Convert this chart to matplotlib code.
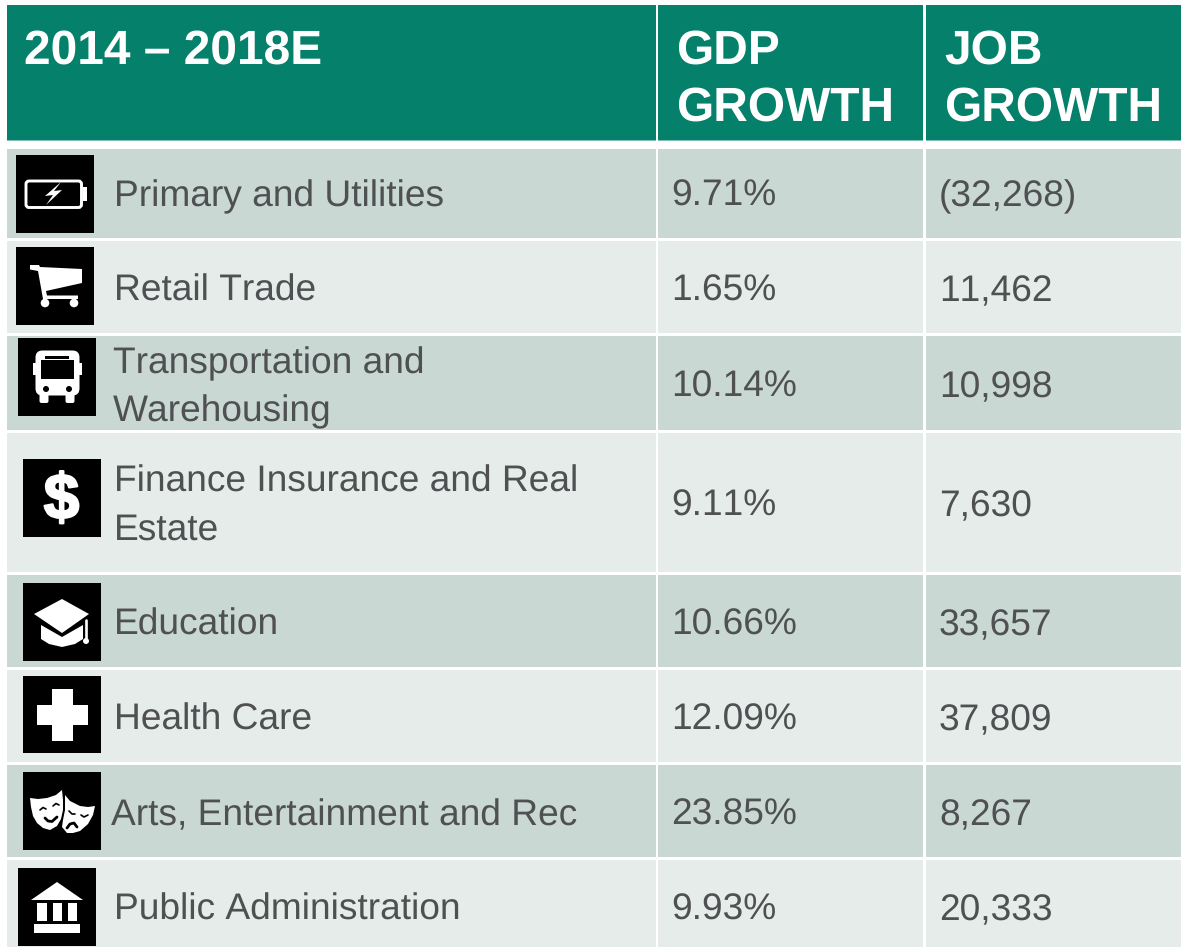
import matplotlib
matplotlib.use("Agg")
import matplotlib.pyplot as plt
import matplotlib.patheffects as pe
from matplotlib.patches import Rectangle, Polygon, Circle, FancyBboxPatch

# ---------- data ----------
period_label = "2014 – 2018E"
gdp_header = ["GDP", "GROWTH"]
job_header = ["JOB", "GROWTH"]
sectors = [["Primary and Utilities"], ["Retail Trade"], ["Transportation and", "Warehousing"],
           ["Finance Insurance and Real", "Estate"], ["Education"], ["Health Care"],
           ["Arts, Entertainment and Rec"], ["Public Administration"]]
gdp_growth = ["9.71%", "1.65%", "10.14%", "9.11%", "10.66%", "12.09%", "23.85%", "9.93%"]
job_growth = ["(32,268)", "11,462", "10,998", "7,630", "33,657", "37,809", "8,267", "20,333"]

# ---------- layout (pixels) ----------
W, H = 1181, 947
row_tops = [148.5, 241, 336, 433, 575, 670, 765, 860]
row_bots = [237.5, 333, 430, 572, 667, 762, 856.5, 947]
col_lefts = [7, 657.5, 925.5]
col_rights = [655.5, 923, 1181]
text_x = [114, 114, 113, 114, 114, 114, 111, 114]
baselines = [[206], [301], [373, 421], [492, 540], [635], [730], [825], [920]]
num_base = [206, 301, 397, 516, 635, 730, 825, 920]
icon_xy = [(16, 155), (16, 247), (18, 338), (23, 459), (23, 583), (23, 675.5), (23, 772), (18, 868)]
HEAD = "#04806b"; EDGE = "#7fc0b4"; DARK = "#c9d8d3"; LIGHT = "#e6ecea"; TXT = "#4f5052"

plt.rcParams['font.family'] = ['Liberation Sans', 'DejaVu Sans']
plt.rcParams['text.kerning_factor'] = 6
plt.rcParams['text.hinting'] = 'no_hinting'
fig = plt.figure(figsize=(W/100, H/100), dpi=100, facecolor="white")
ax = fig.add_axes([0, 0, 1, 1])
ax.set_xlim(0, W); ax.set_ylim(H, 0); ax.axis("off")

def rect(x0, y0, x1, y1, c, z=1):
    ax.add_patch(Rectangle((x0, y0), x1-x0, y1-y0, fc=c, ec="none", zorder=z))

# header
for l, r in zip(col_lefts, col_rights):
    rect(l, 5, r, 139.5, HEAD)
    rect(l, 139.5, r, 141, EDGE)
HS = 34.45
ax.text(24, 64, period_label, fontsize=HS, fontweight="bold", color="white")
for x, lines in ((676, gdp_header), (944, job_header)):
    for y, s in zip((64, 121), lines):
        ax.text(x, y, s, fontsize=HS, fontweight="bold", color="white")

# body
BS = 26.75
for i in range(len(sectors)):
    c = DARK if i % 2 == 0 else LIGHT
    for l, r in zip(col_lefts, col_rights):
        rect(l, row_tops[i], r, row_bots[i], c)
    for y, s in zip(baselines[i], sectors[i]):
        ax.text(text_x[i], y, s, fontsize=BS, color=TXT)
    ax.text(671, num_base[i], gdp_growth[i], fontsize=BS, color=TXT)
    ax.text(939, num_base[i], job_growth[i], fontsize=BS, color=TXT)

# icons: local coordinates 0..77
def base(o):
    rect(o[0], o[1], o[0]+77.5, o[1]+77.5, "black", 2)

def poly(o, pts, c="white", z=3):
    ax.add_patch(Polygon([(o[0]+x, o[1]+y) for x, y in pts], closed=True, fc=c, ec="none", zorder=z))

def box(o, x0, y0, x1, y1, c="white", z=3, rad=0.0, lw=0, ec="none"):
    if rad:
        ax.add_patch(FancyBboxPatch((o[0]+x0+rad, o[1]+y0+rad), x1-x0-2*rad, y1-y0-2*rad,
                                    boxstyle=f"round,pad={rad},rounding_size={rad}", fc=c, ec=ec, lw=lw, zorder=z))
    else:
        rect(o[0]+x0, o[1]+y0, o[0]+x1, o[1]+y1, c, z)

def circ(o, x, y, r, c="white", z=4):
    ax.add_patch(Circle((o[0]+x, o[1]+y), r, fc=c, ec="none", zorder=z))

def line(o, pts, c="white", lw=2.0, z=4):
    ax.plot([o[0]+p[0] for p in pts], [o[1]+p[1] for p in pts], color=c, lw=lw, zorder=z,
            solid_capstyle="round", solid_joinstyle="round")

def battery(o):
    base(o)
    box(o, 10, 26, 65.5, 52.5, c="black", rad=3, lw=2.1, ec="white")
    box(o, 66.5, 32, 71, 46)
    poly(o, [(45, 27), (29, 41), (37, 40), (30, 50), (46, 35), (38, 36)])

def cart(o):
    base(o)
    poly(o, [(14, 18), (23, 18), (24, 20), (66, 22), (66, 36), (30, 44), (31, 48.5), (62, 48.5), (62, 52),
             (27, 52), (22, 24), (14, 22.5)])
    box(o, 27, 52, 31, 58); box(o, 56, 52, 60, 58)
    circ(o, 29, 56, 4.3); circ(o, 58, 56, 4.3)

def bus(o):
    base(o)
    box(o, 17.5, 12.5, 61.5, 57.5, rad=7)
    box(o, 15, 25, 18, 37); box(o, 61, 25, 64, 37)
    box(o, 23, 22, 56, 40.5, c="black", z=4)
    box(o, 27, 18, 51, 21, c="black", z=4)
    circ(o, 28, 51, 3, c="black"); circ(o, 51, 51, 3, c="black")
    box(o, 21.5, 55, 30.5, 65, rad=2); box(o, 47.5, 55, 56.5, 65, rad=2)

def dollar(o):
    base(o)
    ax.text(o[0]+38.5, o[1]+43, "$", fontsize=46, fontweight="bold", color="white", ha="center",
            va="center", zorder=3, family=["Liberation Sans"],
            path_effects=[pe.withStroke(linewidth=1.6, foreground="white")])

def education(o):
    base(o)
    poly(o, [(11, 31), (39, 16), (66, 31), (39, 50)], z=4)
    poly(o, [(18, 42), (39, 54), (60, 42), (60, 56), (52, 61), (39, 64), (26, 61), (18, 56)])
    line(o, [(63, 37), (63, 57)], lw=1.9)
    circ(o, 63, 58, 3)

def health(o):
    base(o)
    box(o, 29, 13, 49.5, 65)
    box(o, 14, 29, 64.5, 49)

def masks(o):
    base(o)
    poly(o, [(7, 26), (15, 27), (24, 26), (33, 23), (39, 18), (40, 28), (40, 38), (38, 47), (34, 54),
             (27, 58), (20, 56), (14, 51), (10, 44), (8, 35)])
    poly(o, [(42, 23), (47, 29), (57, 34), (65, 35), (72, 34), (70, 43), (65, 52), (57, 59), (50, 61),
             (44, 61), (39, 55), (40, 48), (42, 38)], z=3.5)
    line(o, [(17, 38), (20, 35.5), (23, 37)], c="black", lw=1.2)
    line(o, [(30, 34), (33, 31.5), (36, 33)], c="black", lw=1.2)
    line(o, [(22, 46), (25, 49), (29, 49.5), (34, 45)], c="black", lw=2.0)
    line(o, [(46, 39), (49, 42), (52, 42)], c="black", lw=1.2)
    line(o, [(58, 43), (61, 45), (65, 43)], c="black", lw=1.2)
    line(o, [(44, 56), (47, 52), (51, 51), (54, 55)], c="black", lw=2.0)

def public(o):
    base(o)
    poly(o, [(13, 32), (39, 14), (65, 32)])
    for x0 in (19, 34.5, 49.5):
        box(o, x0, 35, x0+9.5, 53)
    box(o, 16, 56, 62, 65)

icon_funcs = [battery, cart, bus, dollar, education, health, masks, public]
for f, o in zip(icon_funcs, icon_xy):
    f(o)

fig.savefig("out.png", dpi=100, facecolor="white")
